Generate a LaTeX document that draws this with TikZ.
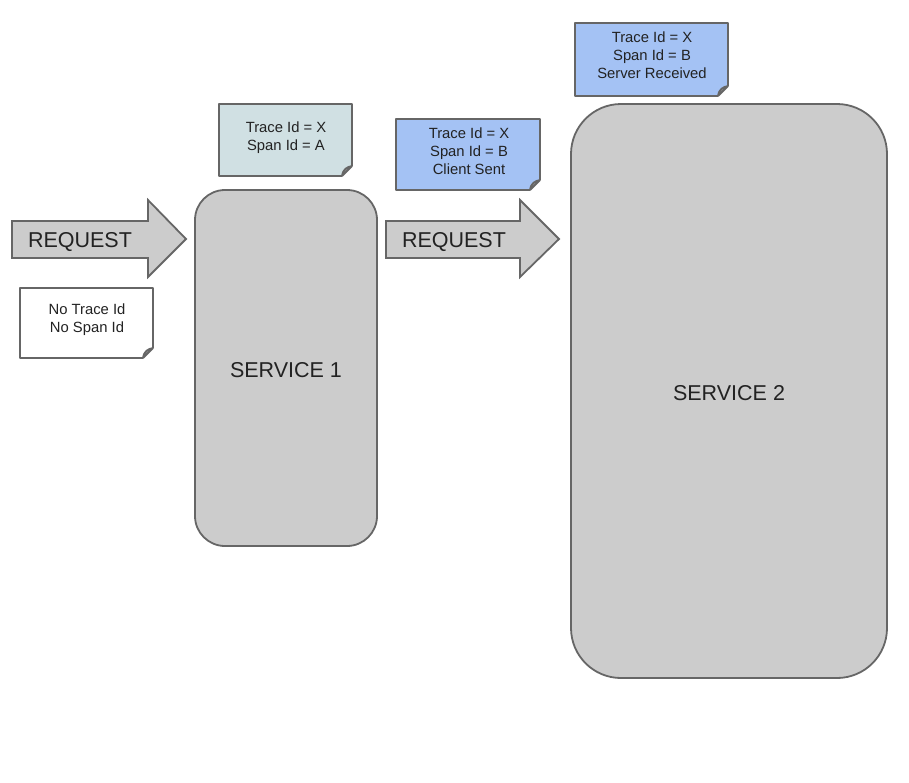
\documentclass[tikz,border=0pt]{standalone}
\usepackage{fontspec}
\setmainfont{Liberation Sans}
\definecolor{edge}{HTML}{666666}
\definecolor{boxgray}{HTML}{CCCCCC}
\definecolor{notegreen}{HTML}{D0E0E3}
\definecolor{noteblue}{HTML}{A4C2F4}
\definecolor{foldgray}{HTML}{999999}
\definecolor{txt}{HTML}{222222}
\begin{document}
\begin{tikzpicture}[x=1pt,y=-1pt,
  svc/.style={draw=edge,fill=boxgray,line width=1.8pt,rounded corners=#1},
  bigtxt/.style={font=\fontsize{21.5}{26}\selectfont,inner sep=0pt,anchor=base,text=txt},
  smalltxt/.style={font=\fontsize{14.8}{18}\selectfont,align=center,inner sep=0pt,text=txt},
  arrowshape/.style={draw=edge,fill=boxgray,line width=1.8pt,line join=miter}
]
\useasboundingbox (0,0) rectangle (909,782);
% note macro
\newcommand{\mynote}[6]{% x1,y1,x2,y2,fill,name
  \fill[#5] (#1,#2) -- (#3,#2) -- (#3,#4-10) -- (#3-10,#4) -- (#1,#4) -- cycle;
  \draw[edge,line width=1.8pt,line join=round] (#3-10,#4) -- (#1,#4) -- (#1,#2) -- (#3,#2) -- (#3,#4-10);
  \draw[edge,line width=1.8pt,fill=foldgray,line join=round] (#3,#4-10) .. controls (#3-5,#4-9) and (#3-9,#4-7) .. (#3-10,#4) -- cycle;
  \coordinate (#6) at ({(#1+#3)/2},{(#2+#4)/2});
}
% arrows
\draw[arrowshape] (12,221) -- (148,221) -- (148,200) -- (186,239) -- (148,277) -- (148,258) -- (12,258) -- cycle;
\node[bigtxt] (req1) at (80,247.5) {REQUEST};
\draw[arrowshape] (386,221) -- (520,221) -- (520,200) -- (559,239) -- (520,277) -- (520,258) -- (386,258) -- cycle;
\node[bigtxt] (req2) at (454,247.5) {REQUEST};
% services
\draw[svc=30pt] (195,190) rectangle (377,546);
\node[bigtxt] (svc1) at (286,377) {SERVICE 1};
\draw[svc=50pt] (571,104) rectangle (887,678);
\node[bigtxt] (svc2) at (729,400) {SERVICE 2};
% notes
\mynote{20}{288}{153}{358}{white}{n0}
\node[smalltxt] (t0) at (87,320) {No Trace Id\\No Span Id};
\mynote{219}{104}{352}{176}{notegreen}{na}
\node[smalltxt] (ta) at (286,138) {Trace Id = X\\Span Id = A};
\mynote{396}{119}{540}{190}{noteblue}{nb}
\node[smalltxt] (tb) at (469,151) {Trace Id = X\\Span Id = B\\Client Sent};
\mynote{575}{23}{728}{96}{noteblue}{ns}
\node[smalltxt] (ts) at (652,55) {Trace Id = X\\Span Id = B\\Server Received};
\end{tikzpicture}
\end{document}
